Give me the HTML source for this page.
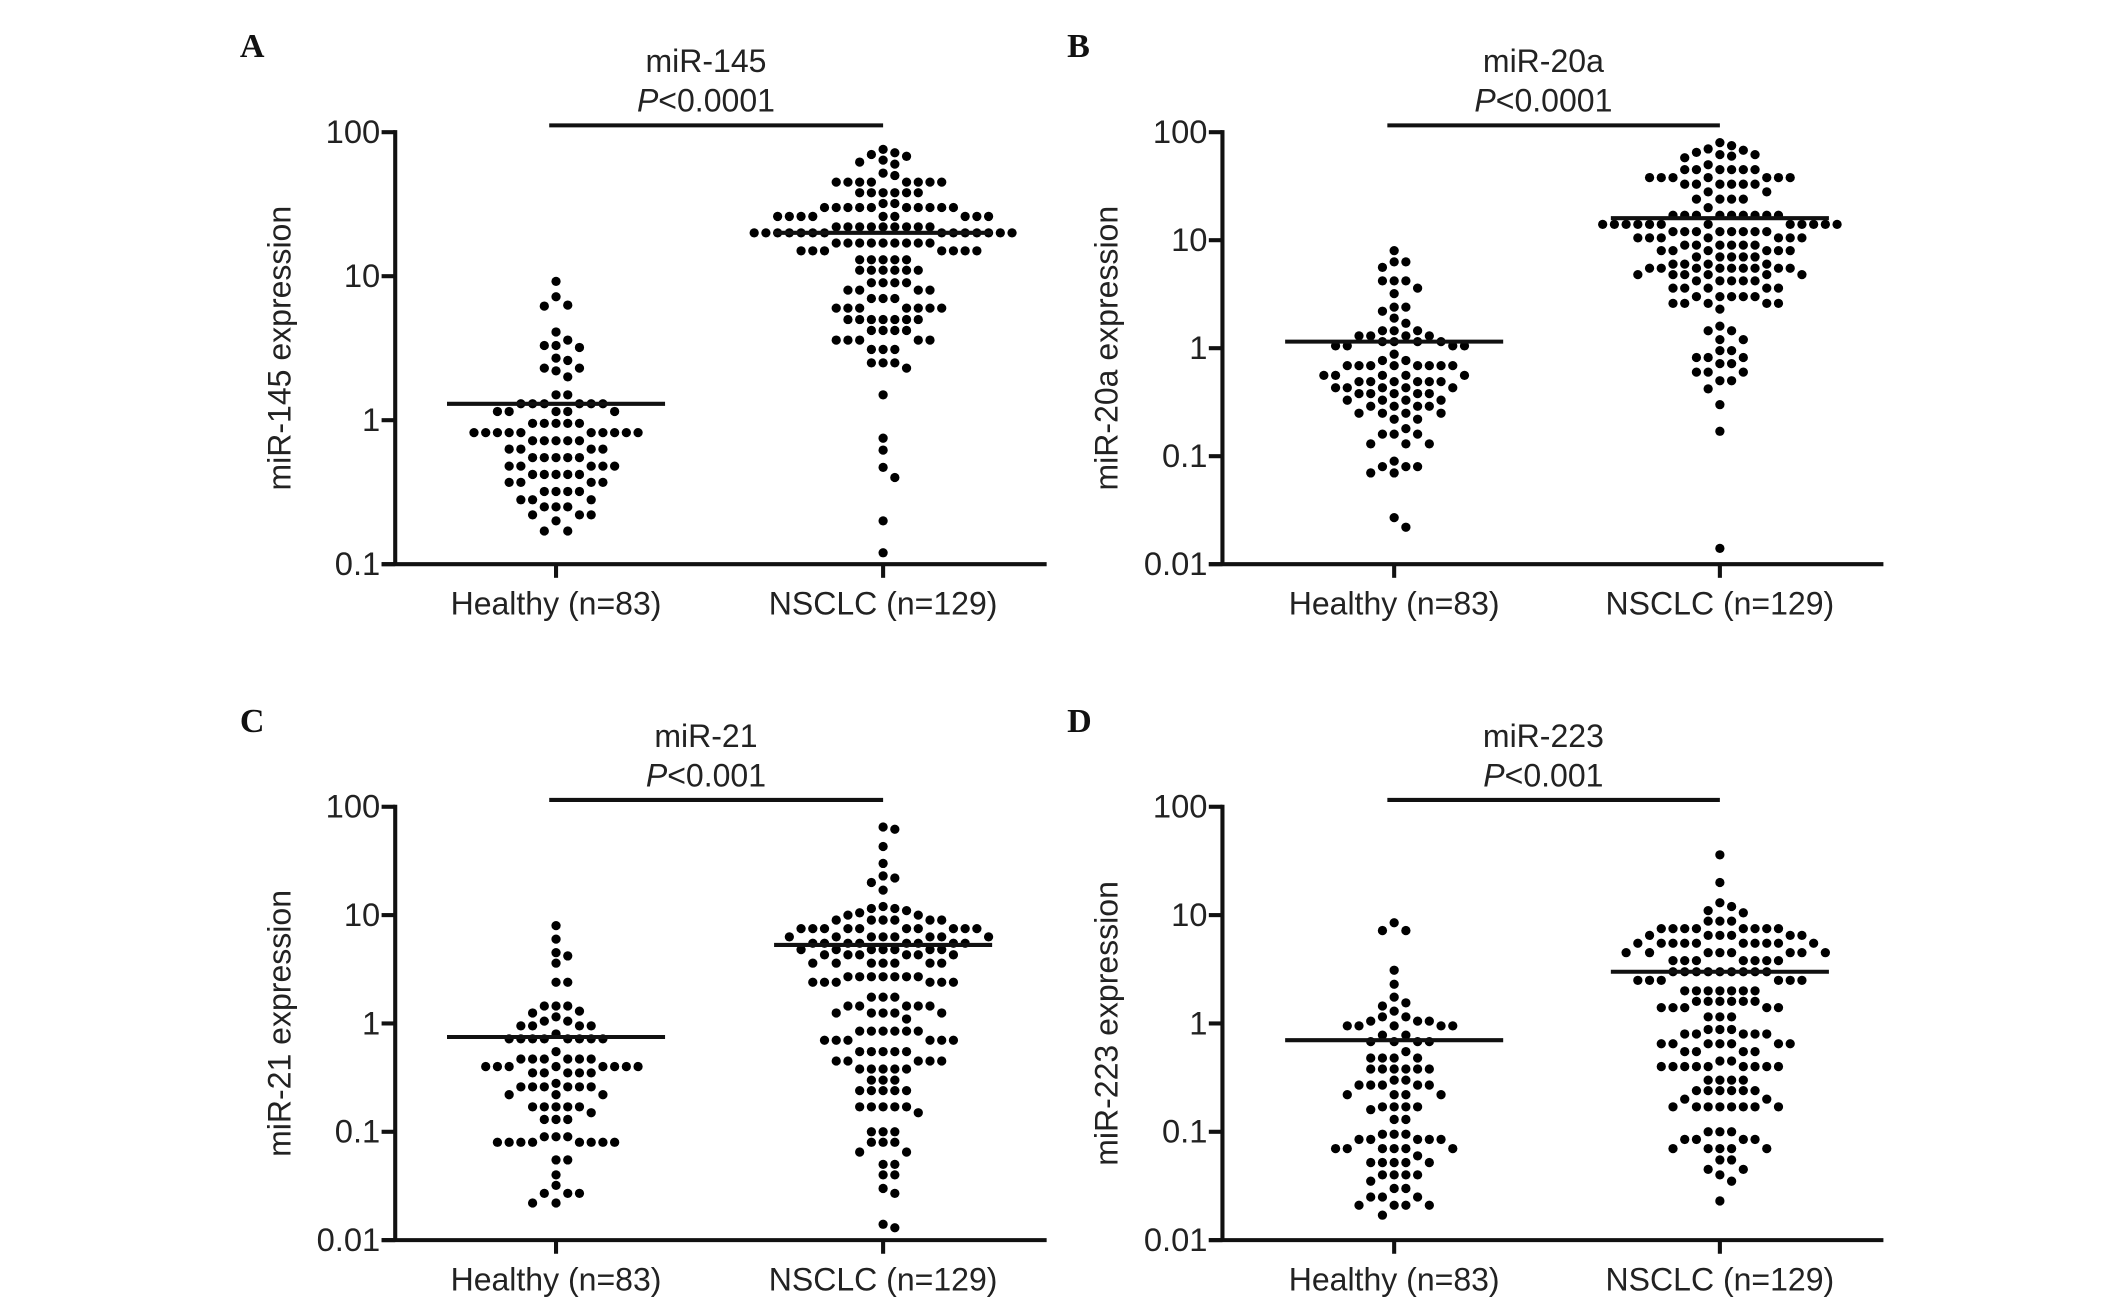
<!DOCTYPE html>
<html><head><meta charset="utf-8"><style>
html,body{margin:0;padding:0;background:#fff;}
svg{display:block;}
text{font-family:"Liberation Sans",Arial,sans-serif;fill:#222;}
.lbl{font-family:"Liberation Serif",serif;font-weight:bold;fill:#111;}
</style></head><body>
<svg id="fig" width="2126" height="1302" viewBox="0 0 1560 955.4" preserveAspectRatio="none" xmlns="http://www.w3.org/2000/svg"></svg>
<script>
const categories = ["Healthy (n=83)", "NSCLC (n=129)"];
function rep(v,n){const a=[];for(let i=0;i<n;i++)a.push(v);return a;}
const aHealthy = [9.2,7.2,6.3,6.2,4.1,3.6,3.3,3.2,3.3,2.7,2.6,2.3,2.3,2.2,2.0,1.5,1.5].concat(rep(1.3,6),rep(1.15,5),rep(0.95,5),rep(0.82,10),rep(0.72,5),rep(0.63,4),rep(0.55,5),rep(0.48,5),rep(0.42,5),rep(0.37,4),rep(0.32,4),rep(0.28,3),rep(0.25,3),rep(0.22,3),[0.2,0.17,0.17]);
const aNsclc = [76,72,70,68,64,62,60,50,52].concat(rep(45,8),rep(38,6),rep(32,2),rep(30,10),rep(26,9),rep(22,9),rep(20,14),rep(17,9),rep(15,7),rep(13,5),rep(11,6),rep(9,4),rep(8,4),rep(7,3),rep(6,7),rep(5,7),rep(4.2,4),rep(3.6,5),rep(3.1,3),rep(2.5,3),[2.3,1.5,0.75,0.62,0.47,0.4,0.2,0.12]);
const bHealthy = [8,6.3,6.3,5.6,4.2,4.2,4.2,3.6,3.2,2.4,2.4,2.2,1.9,1.7,1.45,1.45,1.45].concat(rep(1.3,4),rep(1.15,4),rep(1.05,4),[0.88,0.77,0.77],rep(0.69,8),rep(0.56,5),rep(0.49,6),rep(0.43,5),rep(0.38,5),rep(0.33,4),rep(0.29,4),rep(0.25,4),rep(0.22,2),[0.18],rep(0.16,3),rep(0.13,3),[0.09,0.08,0.08,0.08,0.07,0.07,0.027,0.022]);
const bNsclc = [80,75,70,68,65,62,60,58,62,50].concat(rep(45,6),rep(38,7),rep(33,6),rep(28,2),rep(24,4),[20],rep(17,9),rep(14,12),rep(12,8),rep(10.5,7),rep(9,6),rep(8,6),rep(7,5),rep(6,4),rep(5.5,9),rep(4.8,6),rep(4.2,5),rep(3.6,5),rep(3.0,5),rep(2.6,5),[2.3,1.6,1.45,1.45,1.2,1.2,0.95,0.95,0.82,0.82,0.82,0.72,0.72,0.6,0.6,0.6,0.5,0.5,0.42,0.3,0.17,0.014]);
const cHealthy = [8,6,4.5,4.2,3.6,2.4,2.4,1.45,1.45,1.45,1.3,1.25,1.15,1.05,1.05].concat(rep(0.95,4),[0.8],rep(0.72,8),[0.55],rep(0.47,6),rep(0.4,8),rep(0.35,5),[0.28],rep(0.26,6),rep(0.22,3),rep(0.17,5),[0.15],rep(0.13,3),rep(0.09,3),rep(0.08,8),[0.055,0.055,0.04,0.032,0.027,0.027,0.027,0.022,0.022]);
const cNsclc = [65,62,43,30,23,20,22,17,12,11.5,10.5,11,11.5,10,10].concat(rep(9,6),rep(7.5,10),rep(6.3,8),rep(5.5,8),rep(4.8,7),rep(4.3,6),rep(3.6,7),rep(2.7,7),rep(2.4,6),rep(1.75,3),rep(1.45,5),rep(1.25,5),[1.1],rep(0.85,6),rep(0.7,6),rep(0.55,5),rep(0.45,5),rep(0.38,5),rep(0.3,3),rep(0.24,5),rep(0.17,5),[0.15,0.1,0.1,0.1,0.08,0.08,0.08,0.065,0.065,0.05,0.05,0.04,0.04,0.03,0.027,0.014,0.013]);
const dHealthy = [8.5,7.2,7.2,3.1,2.3,1.75,1.55,1.45,1.3,1.15,1.15,1.05,1.05,1.05].concat(rep(0.95,5),[0.78,0.78],rep(0.68,4),[0.55],rep(0.48,4),rep(0.38,6),[0.3,0.3],rep(0.27,5),rep(0.22,4),rep(0.17,4),[0.16,0.13,0.13],rep(0.095,3),rep(0.085,5),rep(0.07,6),[0.06],rep(0.052,5),rep(0.04,4),[0.035,0.03,0.03],rep(0.025,3),rep(0.021,4),[0.017]);
const dNsclc = [36,20,13,12,11,10.5,8.8,8.8,8.8].concat(rep(7.5,8),rep(6.5,6),rep(5.5,10),rep(4.5,8),rep(3.8,7),rep(3.0,9),rep(2.5,6),rep(2.0,7),rep(1.6,6),rep(1.4,5),rep(1.15,3),rep(0.88,3),rep(0.8,5),rep(0.65,7),rep(0.55,4),rep(0.45,2),rep(0.4,9),rep(0.3,4),rep(0.24,6),rep(0.2,2),rep(0.17,8),rep(0.1,3),rep(0.085,4),rep(0.07,5),[0.055,0.055,0.045,0.045,0.04,0.035,0.023]);
const medians = {A:[1.3,20],B:[1.15,16],C:[0.75,5.3],D:[0.7,3.0]};
const titles = {A:"miR-145",B:"miR-20a",C:"miR-21",D:"miR-223"};
const pvals = {A:"<0.0001",B:"<0.0001",C:"<0.001",D:"<0.001"};
const ticksA = ["0.1","1","10","100"];
const ticksBCD = ["0.01","0.1","1","10","100"];

const NS="http://www.w3.org/2000/svg";
const svg=document.getElementById('fig');
function el(tag,attrs,parent){const e=document.createElementNS(NS,tag);for(const k in attrs)e.setAttribute(k,attrs[k]);(parent||svg).appendChild(e);return e;}

function panel(key,ox,xs,top,bottom,right,ticks,groups,ylab){
  const g=el('g',{});
  
  
  const lo=Math.log10(parseFloat(ticks[0])),hi=Math.log10(parseFloat(ticks[ticks.length-1]));
  const y=v=>bottom-(Math.log10(v)-lo)/(hi-lo)*(bottom-top);
  const L=el('text',{x:ox-114,y:top-55,'font-size':25,class:'lbl'},g);L.textContent=key;
  
  
  const cx=(xs[0]+xs[1])/2-10;
  const T=el('text',{x:cx,y:top-44,'font-size':23.5,'text-anchor':'middle'},g);T.textContent=titles[key];
  
  
  const P=el('text',{x:cx,y:top-15,'font-size':23.5,'text-anchor':'middle'},g);
  const pi=el('tspan',{'font-style':'italic'},P);pi.textContent='P';
  const pr=el('tspan',{},P);pr.textContent=pvals[key];
  
  
  const sb=el('line',{x1:xs[0]-5,x2:xs[1],y1:top-5,y2:top-5,stroke:'#111','stroke-width':3},g);
  
  
  const ya=el('line',{x1:ox,x2:ox,y1:top-1.5,y2:bottom,stroke:'#111','stroke-width':3},g);
  
  
  const xa=el('line',{x1:ox-10,x2:right,y1:bottom,y2:bottom,stroke:'#111','stroke-width':3},g);
  
  
  ticks.forEach(t=>{const yy=y(parseFloat(t));
    const tk=el('line',{x1:ox-10,x2:ox,y1:yy,y2:yy,stroke:'#111','stroke-width':3},g);
    
    
    const tl=el('text',{x:ox-11,y:yy+8,'font-size':24,'text-anchor':'end'},g);tl.textContent=t;
    
    
  });
  categories.forEach((c,i)=>{
    const tk=el('line',{x1:xs[i],x2:xs[i],y1:bottom,y2:bottom+10,stroke:'#111','stroke-width':3},g);
    
    
    const tl=el('text',{x:xs[i],y:bottom+37,'font-size':23.5,'text-anchor':'middle'},g);tl.textContent=c;
    
    
  });
  const yl=el('text',{x:0,y:0,'font-size':23.5,'text-anchor':'middle',transform:`translate(${ox-77},${(top+bottom)/2})  rotate(-90)`},g);
  yl.textContent=ylab;
  
  
  groups.forEach((vals,gi)=>{
    const sorted=vals.slice().sort((a,b)=>b-a);
    const placed=[];const s=8.6,md=7.6;
    sorted.forEach(v=>{
      const yy=y(v);let off=0;
      for(let k=0;k<80;k++){
        const cand=k===0?0:(k%2? Math.ceil(k/2)*s : -Math.ceil(k/2)*s);
        if(!placed.some(p=>Math.hypot(p.x-cand,p.y-yy)<md)){off=cand;break;}
      }
      placed.push({x:off,y:yy});
      const d=el('circle',{cx:xs[gi]+off,cy:yy,r:3.4,fill:'#000'},g);
      
      
    });
    const m=medians[key][gi];
    const ml=el('line',{x1:xs[gi]-80,x2:xs[gi]+80,y1:y(m),y2:y(m),stroke:'#111','stroke-width':3},g);
    
    
  });
}
panel('A',290,[408,648],97,414,768,ticksA,[aHealthy,aNsclc],'miR-145 expression');
panel('B',897,[1023,1262],97,414,1382,ticksBCD,[bHealthy,bNsclc],'miR-20a expression');
panel('C',290,[408,648],592,910,768,ticksBCD,[cHealthy,cNsclc],'miR-21 expression');
panel('D',897,[1023,1262],592,910,1382,ticksBCD,[dHealthy,dNsclc],'miR-223 expression');
</script>
</body></html>
